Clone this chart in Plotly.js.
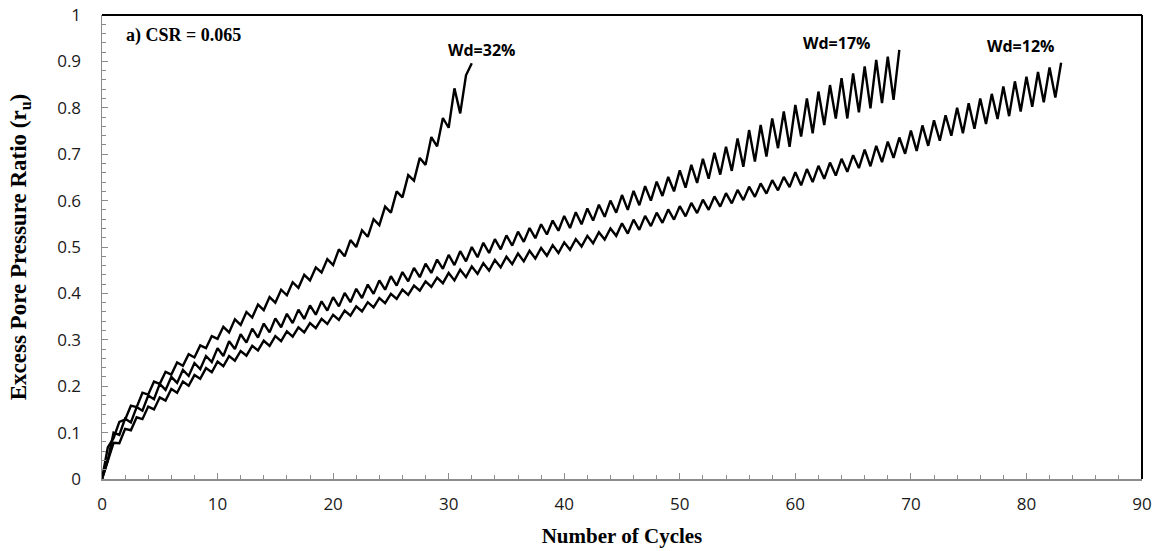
<!DOCTYPE html>
<html>
<head>
<meta charset="utf-8">
<script src="https://cdn.plot.ly/plotly-3.0.1.min.js"></script>
<style>
  html, body { margin: 0; padding: 0; background: #ffffff; }
  #chart { width: 1162px; height: 551px; }
</style>
</head>
<body>
<div id="chart"></div>
<script>
// Excess pore pressure ratio r_u sampled every half loading cycle (x = 0, 0.5, 1, ...)
const cycleStep = 0.5;

// Wd = 32 %
const ruWd32 = [
  0, 0.068, 0.088, 0.123, 0.128, 0.158, 0.155, 0.186, 0.182, 0.21,
  0.205, 0.231, 0.225, 0.251, 0.244, 0.269, 0.262, 0.288, 0.282, 0.308,
  0.302, 0.328, 0.316, 0.344, 0.332, 0.36, 0.348, 0.376, 0.364, 0.392,
  0.38, 0.408, 0.396, 0.424, 0.412, 0.44, 0.428, 0.456, 0.445, 0.474,
  0.461, 0.495, 0.48, 0.515, 0.50, 0.536, 0.522, 0.56, 0.547, 0.587,
  0.574, 0.62, 0.607, 0.655, 0.643, 0.692, 0.677, 0.737, 0.717, 0.778,
  0.757, 0.842, 0.788, 0.87, 0.896
];

// Wd = 17 %
const ruWd17 = [
  0, 0.04, 0.10, 0.095, 0.13, 0.122, 0.155, 0.147, 0.18, 0.172,
  0.205, 0.192, 0.22, 0.207, 0.235, 0.222, 0.25, 0.237, 0.265, 0.252,
  0.282, 0.265, 0.297, 0.28, 0.312, 0.294, 0.324, 0.305, 0.335, 0.316,
  0.346, 0.327, 0.356, 0.336, 0.365, 0.345, 0.374, 0.354, 0.383, 0.363,
  0.392, 0.372, 0.401, 0.381, 0.41, 0.39, 0.419, 0.399, 0.428, 0.408,
  0.437, 0.417, 0.446, 0.426, 0.455, 0.435, 0.464, 0.444, 0.473, 0.453,
  0.483, 0.461, 0.491, 0.469, 0.50, 0.478, 0.509, 0.487, 0.517, 0.495,
  0.525, 0.503, 0.533, 0.511, 0.541, 0.519, 0.549, 0.527, 0.557, 0.535,
  0.567, 0.541, 0.575, 0.549, 0.583, 0.557, 0.591, 0.565, 0.60, 0.574,
  0.612, 0.58, 0.621, 0.59, 0.631, 0.60, 0.641, 0.61, 0.651, 0.62,
  0.665, 0.628, 0.677, 0.638, 0.69, 0.647, 0.703, 0.656, 0.716, 0.664,
  0.734, 0.673, 0.752, 0.684, 0.763, 0.695, 0.777, 0.713, 0.792, 0.716,
  0.806, 0.738, 0.82, 0.745, 0.835, 0.763, 0.849, 0.777, 0.864, 0.777,
  0.874, 0.79, 0.889, 0.799, 0.903, 0.81, 0.91, 0.817, 0.925
];

// Wd = 12 %
const ruWd12 = [
  0, 0.04, 0.078, 0.077, 0.108, 0.105, 0.133, 0.129, 0.156, 0.15,
  0.176, 0.169, 0.194, 0.186, 0.21, 0.201, 0.224, 0.216, 0.239, 0.23,
  0.253, 0.243, 0.265, 0.255, 0.276, 0.266, 0.287, 0.277, 0.298, 0.287,
  0.308, 0.297, 0.318, 0.307, 0.327, 0.316, 0.336, 0.325, 0.345, 0.334,
  0.354, 0.343, 0.363, 0.352, 0.372, 0.361, 0.381, 0.37, 0.39, 0.379,
  0.399, 0.388, 0.408, 0.397, 0.417, 0.406, 0.426, 0.414, 0.434, 0.422,
  0.444, 0.428, 0.451, 0.435, 0.458, 0.442, 0.465, 0.449, 0.472, 0.456,
  0.479, 0.463, 0.486, 0.469, 0.492, 0.475, 0.498, 0.481, 0.504, 0.487,
  0.51, 0.494, 0.517, 0.501, 0.524, 0.508, 0.532, 0.516, 0.54, 0.524,
  0.551, 0.529, 0.559, 0.537, 0.567, 0.545, 0.574, 0.552, 0.581, 0.559,
  0.588, 0.566, 0.595, 0.573, 0.602, 0.58, 0.609, 0.587, 0.616, 0.594,
  0.623, 0.601, 0.63, 0.608, 0.637, 0.615, 0.644, 0.622, 0.651, 0.629,
  0.661, 0.633, 0.668, 0.64, 0.675, 0.647, 0.682, 0.654, 0.69, 0.662,
  0.698, 0.67, 0.71, 0.674, 0.718, 0.683, 0.727, 0.692, 0.736, 0.701,
  0.751, 0.707, 0.762, 0.718, 0.773, 0.729, 0.784, 0.74, 0.80, 0.745,
  0.81, 0.755, 0.82, 0.765, 0.83, 0.776, 0.846, 0.782, 0.857, 0.792,
  0.867, 0.802, 0.877, 0.812, 0.887, 0.822, 0.897
];

const seriesNames = ['Wd=32%', 'Wd=17%', 'Wd=12%'];
const seriesValues = [ruWd32, ruWd17, ruWd12];
// label anchor for each curve: [cycles, r_u]
const labelAnchors = [[32.8, 0.925], [63.6, 0.94], [79.5, 0.933]];

const traces = seriesValues.map((vals, s) => ({
  type: 'scatter',
  mode: 'lines',
  name: seriesNames[s],
  x: vals.map((_, i) => i * cycleStep),
  y: vals,
  line: { color: '#000000', width: 2.4 },
  hoverinfo: 'x+y+name'
}));

const axisGray = '#8c8c8c';
const serif = '"Liberation Serif", "Times New Roman", serif';
const sans = '"Open Sans", "Noto Sans", sans-serif';

const annotations = seriesNames.map((name, s) => ({
  x: labelAnchors[s][0], y: labelAnchors[s][1],
  xref: 'x', yref: 'y',
  text: name, showarrow: false,
  font: { family: sans, size: 16, color: '#000', weight: 'bold' },
  xanchor: 'center', yanchor: 'middle'
}));
annotations.push({
  x: 0.021, y: 0.955, xref: 'paper', yref: 'paper',
  text: 'a) CSR = 0.065', showarrow: false,
  font: { family: serif, size: 18, color: '#000', weight: 'bold' },
  xanchor: 'left', yanchor: 'middle'
});

const layout = {
  width: 1162, height: 551,
  margin: { l: 102, r: 20, t: 15, b: 72 },
  paper_bgcolor: '#ffffff', plot_bgcolor: '#ffffff',
  showlegend: false,
  xaxis: {
    range: [0, 90], dtick: 10, tick0: 0,
    showgrid: false, zeroline: false,
    showline: true, linecolor: axisGray, linewidth: 1.5,
    ticks: 'inside', ticklen: 6, tickwidth: 1, tickcolor: axisGray,
    minor: { dtick: 2, ticks: 'inside', ticklen: 4, tickcolor: axisGray, tickwidth: 1, showgrid: false },
    tickfont: { family: sans, size: 17, color: '#1a1a1a' },
    ticklabelstandoff: 9,
    title: { text: 'Number of Cycles', standoff: 14,
             font: { family: serif, size: 21, color: '#000', weight: 'bold' } }
  },
  yaxis: {
    range: [0, 1], dtick: 0.1, tick0: 0,
    showgrid: false, zeroline: false,
    showline: true, linecolor: axisGray, linewidth: 1.5,
    ticks: 'inside', ticklen: 6, tickwidth: 1, tickcolor: axisGray,
    minor: { dtick: 0.02, ticks: 'inside', ticklen: 4, tickcolor: axisGray, tickwidth: 1, showgrid: false },
    tickfont: { family: sans, size: 17, color: '#1a1a1a' },
    ticklabelstandoff: 16,
    title: { text: 'Excess Pore Pressure Ratio (r<sub>u</sub>)', standoff: 24,
             font: { family: serif, size: 23, color: '#000', weight: 'bold' } }
  },
  shapes: [
    { type: 'line', xref: 'paper', yref: 'paper', x0: 0, x1: 1, y0: 1, y1: 1,
      line: { color: '#000', width: 2 } },
    { type: 'line', xref: 'paper', yref: 'paper', x0: 1, x1: 1, y0: 0, y1: 1,
      line: { color: '#000', width: 2 } }
  ],
  annotations: annotations
};

Plotly.newPlot('chart', traces, layout, { displayModeBar: false, staticPlot: true });
</script>
</body>
</html>
